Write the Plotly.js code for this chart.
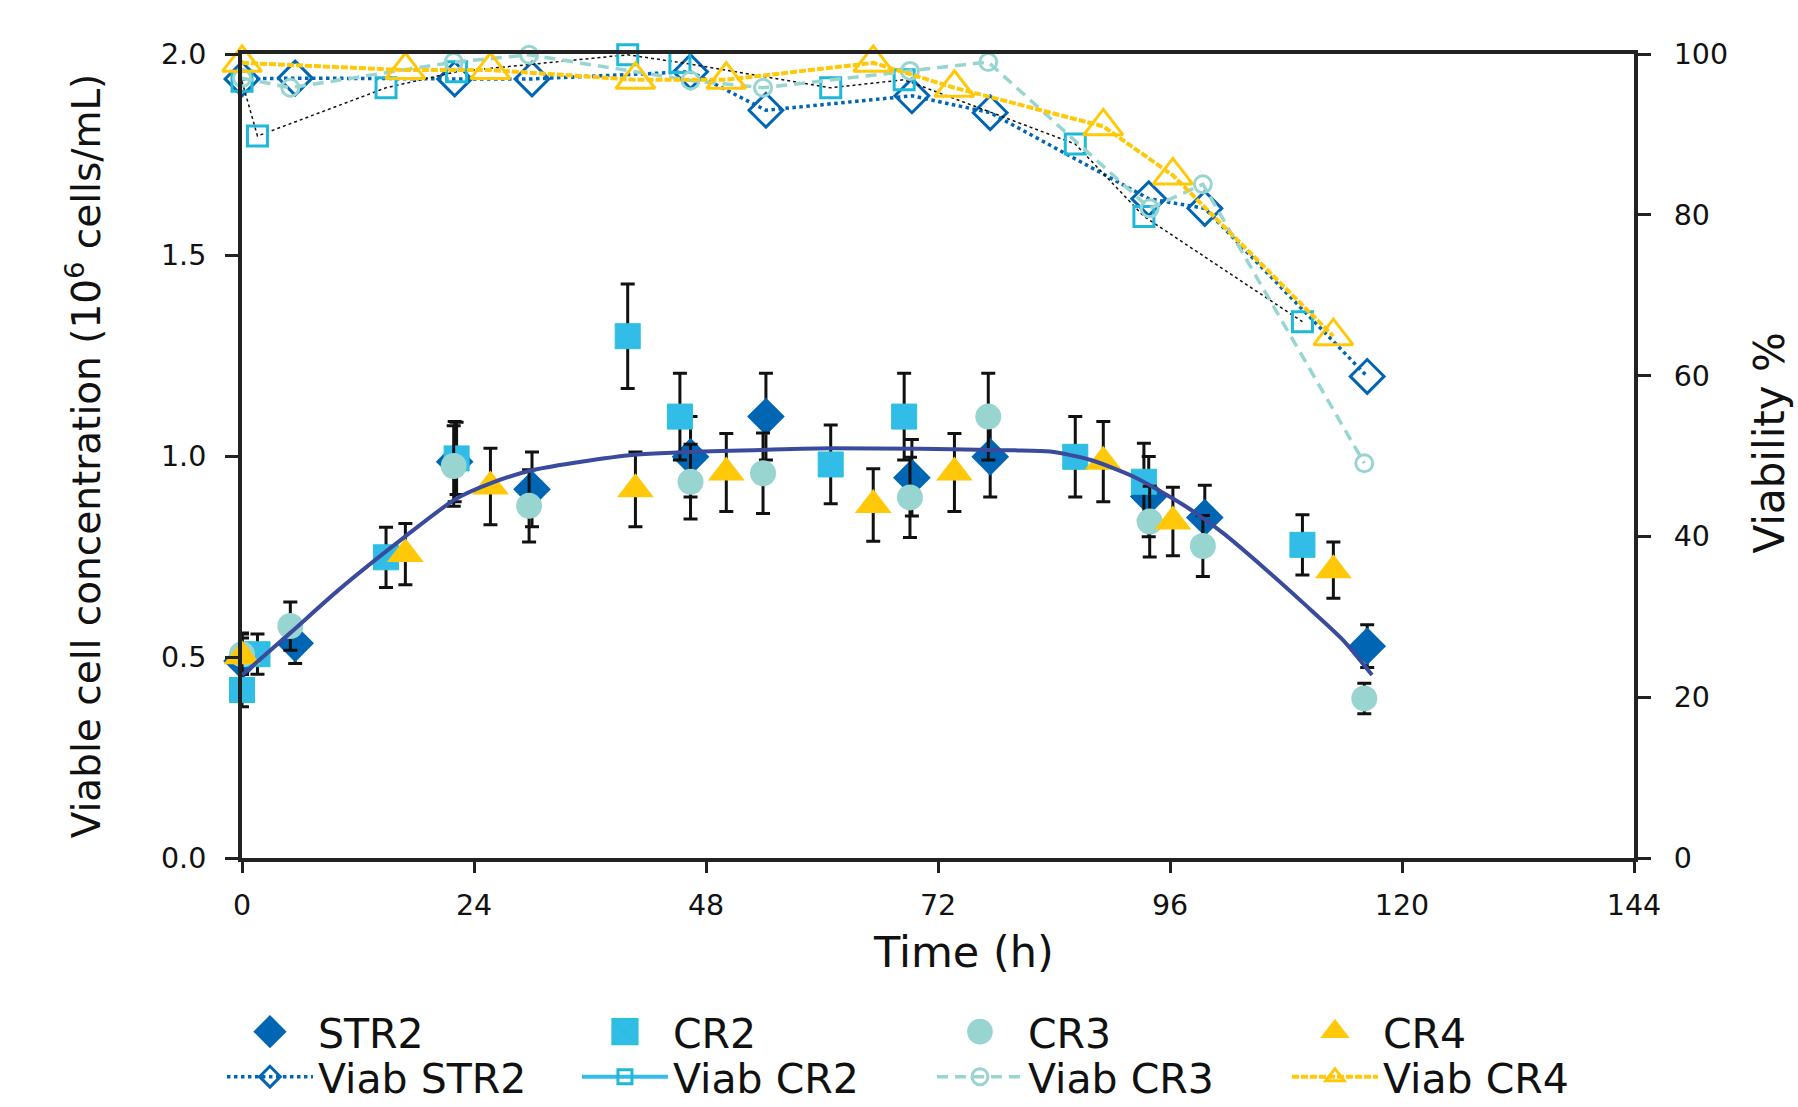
<!DOCTYPE html>
<html>
<head>
<meta charset="utf-8">
<script src="https://cdn.plot.ly/plotly-3.0.1.min.js"></script>
<style>
  html, body { margin: 0; padding: 0; background: #fff; }
  #chart { width: 1798px; height: 1107px; }
</style>
</head>
<body>
<div id="chart"></div>
<script>
// ---- Viable cell concentration (10^6 cells/mL) ----
const hoursSTR2 = [0, 5.5, 22, 30, 46.4, 54.2, 69.3, 77.4, 93.8, 99.6, 116.4];
const vcdSTR2   = [0.49, 0.534, 0.986, 0.917, 0.998, 1.098, 0.946, 0.998, 0.899, 0.847, 0.527];
const errSTR2   = [0.07, 0.05, 0.10, 0.093, 0.10, 0.108, 0.095, 0.10, 0.10, 0.08, 0.053];

const hoursCR2 = [0, 1.6, 14.9, 22.2, 39.9, 45.3, 60.9, 68.5, 86.2, 93.3, 109.7];
const vcdCR2   = [0.418, 0.507, 0.748, 0.994, 1.298, 1.098, 0.979, 1.098, 0.998, 0.936, 0.779];
const errCR2   = [0.042, 0.05, 0.075, 0.09, 0.13, 0.108, 0.098, 0.108, 0.10, 0.096, 0.075];

const hoursCR3 = [0, 5.0, 21.9, 29.7, 46.4, 53.9, 69.1, 77.2, 93.9, 99.4, 116.1];
const vcdCR3   = [0.507, 0.577, 0.975, 0.876, 0.936, 0.957, 0.897, 1.098, 0.837, 0.776, 0.397];
const errCR3   = [0.05, 0.06, 0.10, 0.09, 0.093, 0.10, 0.10, 0.108, 0.088, 0.076, 0.038];

const hoursCR4 = [0, 16.9, 25.7, 40.7, 50.1, 65.3, 73.7, 89.1, 96.3, 112.9];
const vcdCR4   = [0.502, 0.756, 0.924, 0.917, 0.959, 0.878, 0.959, 0.986, 0.837, 0.716];
const errCR4   = [0.045, 0.076, 0.095, 0.093, 0.097, 0.09, 0.097, 0.10, 0.085, 0.07];

// ---- Fitted trend curve ----
const fitHours = [0, 5, 10, 16.9, 22.1, 25.7, 30.1, 40.6, 53.7, 61, 70, 77.4, 80, 83.6, 87.8, 92.2, 97.4, 101.5, 106, 109.8, 113.9, 116.9];
const fitVcd   = [0.455, 0.56, 0.667, 0.80, 0.893, 0.932, 0.965, 1.003, 1.015, 1.019, 1.018, 1.015, 1.014, 1.011, 0.99, 0.949, 0.878, 0.808, 0.716, 0.634, 0.542, 0.455];

// ---- Viability (%) ----
const viabSTR2 = [96.9, 97.0, 96.9, 96.9, 97.8, 93.0, 94.8, 92.7, 82.0, 80.8, 59.9];
const viabCR2  = [96.6, 89.8, 95.8, 97.8, 99.9, 98.95, 95.8, 96.8, 88.8, 79.8, 66.7];
const viabCR3  = [97.0, 95.8, 99.0, 99.9, 96.7, 95.8, 97.9, 99.0, 80.8, 83.8, 49.1];
const viabCR4  = [98.9, 98.0, 98.0, 96.8, 96.8, 98.9, 95.8, 91.0, 84.9, 64.9];

// ---- Axis ticks and titles ----
const timeTicks = [0, 24, 48, 72, 96, 120, 144];
const vcdTicks  = [0, 0.5, 1.0, 1.5, 2.0];
const vcdTickText = ['0.0', '0.5', '1.0', '1.5', '2.0'];
const viabTicks = [0, 20, 40, 60, 80, 100];
const xTitle = 'Time (h)';
const yTitle = 'Viable cell concentration (10<sup>6</sup> cells/mL)';
const y2Title = 'Viability %';

const C_STR2 = '#0066B3', C_CR2 = '#33BCEA', C_CR3 = '#98D5D1', C_CR4 = '#FFC90A', C_FIT = '#3A4B9E';
const FONT = 'DejaVu Sans, Verdana, sans-serif';

function err(a) { return {type: 'data', array: a, visible: true, color: '#111', thickness: 3, width: 7}; }

const traces = [
  {name: 'STR2', x: hoursSTR2, y: vcdSTR2, mode: 'markers', error_y: err(errSTR2), cliponaxis: false,
   marker: {symbol: 'diamond', size: 29, color: C_STR2}, legend: 'legend', legendrank: 1},
  {name: 'CR2', x: hoursCR2, y: vcdCR2, mode: 'markers', error_y: err(errCR2), cliponaxis: false,
   marker: {symbol: 'square-x', size: 25, color: C_CR2, line: {color: '#25C4D4', width: 1}}, legend: 'legend', legendrank: 2},
  {name: 'CR3', x: hoursCR3, y: vcdCR3, mode: 'markers', error_y: err(errCR3), cliponaxis: false,
   marker: {symbol: 'circle', size: 26, color: C_CR3}, legend: 'legend', legendrank: 3},
  {name: 'CR4', x: hoursCR4, y: vcdCR4, mode: 'markers', error_y: err(errCR4), cliponaxis: false,
   marker: {symbol: 'triangle-up', size: 32, color: C_CR4}, legend: 'legend', legendrank: 4},
  {name: 'fit', x: fitHours, y: fitVcd, mode: 'lines', showlegend: false, cliponaxis: false,
   line: {color: C_FIT, width: 4, shape: 'spline', smoothing: 0.7}},
  {name: 'Viab STR2', x: hoursSTR2, y: viabSTR2, yaxis: 'y2', mode: 'lines+markers', cliponaxis: false,
   line: {color: C_STR2, width: 3.5, dash: 'dot'},
   marker: {symbol: 'diamond-open', size: 26, color: C_STR2, line: {width: 3}}, legend: 'legend2', legendrank: 5},
  {name: 'Viab CR2', x: hoursCR2, y: viabCR2, yaxis: 'y2', mode: 'lines+markers', cliponaxis: false, showlegend: false,
   line: {color: '#111', width: 1.5, dash: 'dot'},
   marker: {symbol: 'square-open', size: 20, color: '#1FB8D8', line: {width: 3}}},
  {name: 'Viab CR2', x: [null], y: [null], yaxis: 'y2', mode: 'lines+markers',
   line: {color: C_CR2, width: 4},
   marker: {symbol: 'square-open', size: 14, color: '#1FB8D8', line: {width: 3}}, legend: 'legend2', legendrank: 6},
  {name: 'Viab CR3', x: hoursCR3, y: viabCR3, yaxis: 'y2', mode: 'lines+markers', cliponaxis: false,
   line: {color: C_CR3, width: 3.5, dash: '11px,7px'},
   marker: {symbol: 'circle-open', size: 17, color: C_CR3, line: {width: 3}}, legend: 'legend2', legendrank: 7},
  {name: 'Viab CR4', x: hoursCR4, y: viabCR4, yaxis: 'y2', mode: 'lines+markers', cliponaxis: false,
   line: {color: C_CR4, width: 4, dash: '7px,2px'},
   marker: {symbol: 'triangle-up-open', size: 34, color: C_CR4, line: {width: 3}}, legend: 'legend2', legendrank: 8}
];

const axisCommon = {
  showgrid: false, zeroline: false, showline: true, linecolor: '#222', linewidth: 4,
  ticks: 'outside', tickcolor: '#222', tickwidth: 3, ticklen: 13,
  tickfont: {family: FONT, size: 28.5, color: '#111'}
};

const legendCommon = {
  orientation: 'h', x: -0.0144, xanchor: 'left', yanchor: 'middle',
  font: {family: FONT, size: 41, color: '#111'},
  itemwidth: 86, entrywidth: 254, entrywidthmode: 'pixels', bgcolor: 'rgba(0,0,0,0)',
  traceorder: 'normal'
};

const layout = {
  width: 1798, height: 1107,
  margin: {l: 242, r: 164, t: 54, b: 249, autoexpand: false},
  paper_bgcolor: '#fff', plot_bgcolor: '#fff',
  font: {family: FONT, color: '#111'},
  showlegend: true,
  xaxis: Object.assign({}, axisCommon, {
    range: [0, 144], tickvals: timeTicks, mirror: true, ticklen: 11, ticklabelstandoff: 8
  }),
  yaxis: Object.assign({}, axisCommon, {
    range: [0, 2], tickvals: vcdTicks, ticktext: vcdTickText, ticklabelstandoff: 13,
    title: {text: yTitle, font: {family: FONT, size: 39, color: '#111'}, standoff: 49}
  }),
  yaxis2: Object.assign({}, axisCommon, {
    range: [0, 100], tickvals: viabTicks, overlaying: 'y', side: 'right', ticklabelstandoff: 17
  }),
  annotations: [
    {text: xTitle, xref: 'paper', yref: 'paper', x: 0.518, y: -0.117, xanchor: 'center', yanchor: 'middle',
     showarrow: false, font: {family: FONT, size: 43, color: '#111'}},
    {text: y2Title, xref: 'paper', yref: 'paper', x: 1.0977, y: 0.5167, xanchor: 'center', yanchor: 'middle',
     textangle: -90, showarrow: false, font: {family: FONT, size: 42, color: '#111'}}
  ],
  legend: Object.assign({}, legendCommon, {y: -0.2164}),
  legend2: Object.assign({}, legendCommon, {y: -0.2724})
};

Plotly.newPlot('chart', traces, layout, {displayModeBar: false, staticPlot: true}).then(function (gd) {
  // enlarge legend symbols to match the reference key
  gd.querySelectorAll('.legend .legendpoints path.scatterpts').forEach(function (p) {
    var t = p.getAttribute('transform') || '';
    p.setAttribute('transform', t + ' scale(1.6)');
  });
});
</script>
</body>
</html>
